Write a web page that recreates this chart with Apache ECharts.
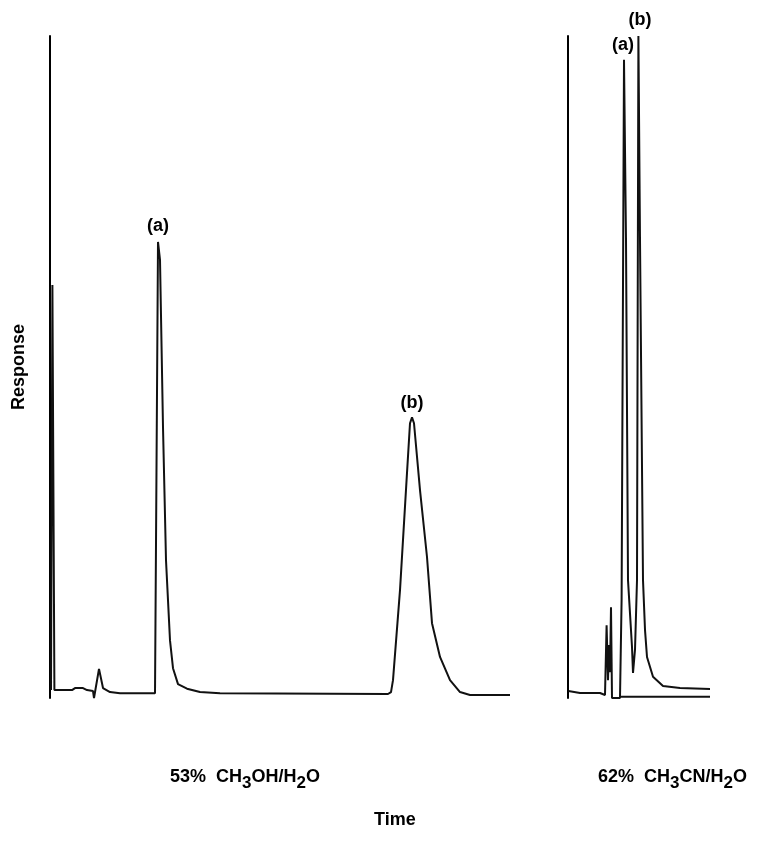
<!DOCTYPE html>
<html>
<head>
    <title>Chromatograms</title>
    <script src="https://cdn.jsdelivr.net/npm/echarts@6.0.0/dist/echarts.min.js"></script>
    <style>
        html, body { margin: 0; padding: 0; background: #fff; }
        #chart { width: 758px; height: 849px; }
    </style>
</head>
<body>
    <div id="chart"></div>
    <script>
        // 53% CH3OH/H2O trace: [time (min), response]
        var methanolTrace = [
            [0.05, 1.2], [0.12, 62.4], [0.22, 1.2], [1.1, 1.2], [1.25, 1.5], [1.65, 1.5],
            [1.85, 1.2], [2.15, 1.05], [2.2, 0], [2.3, 0], [2.45, 4.4], [2.65, 1.5],
            [3.0, 0.9], [3.5, 0.7], [5.25, 0.7], [5.4, 68.9], [5.5, 66.2], [5.65, 40.9],
            [5.8, 20.8], [6.0, 8.7], [6.15, 4.5], [6.4, 2.1], [6.85, 1.4], [7.5, 0.9],
            [8.5, 0.7], [16.9, 0.6], [17.05, 0.9], [17.15, 2.7], [17.5, 16.3], [17.85, 34.0],
            [18.0, 41.5], [18.1, 42.4], [18.2, 41.5], [18.5, 31.4], [18.85, 21.3], [19.1, 11.3],
            [19.5, 6.2], [20.0, 2.7], [20.5, 0.9], [21.0, 0.45], [23.0, 0.45]
        ];
        // 62% CH3CN/H2O trace
        var acetonitrileTrace = [
            [0.02, 1.06], [0.6, 0.76], [1.6, 0.76], [1.85, 0.45], [1.93, 11.0], [2.0, 2.7],
            [2.05, 8.0], [2.1, 3.9], [2.15, 13.7], [2.2, 0], [2.6, 0], [2.68, 14.8],
            [2.8, 96.4], [2.9, 69.2], [3.0, 17.8], [3.2, 7.7], [3.25, 3.8], [3.35, 7.3],
            [3.45, 17.8], [3.52, 100], [3.6, 69.2], [3.75, 17.8], [3.85, 10.3], [3.95, 6.2],
            [4.25, 3.2], [4.75, 1.8], [5.6, 1.5], [7.1, 1.36]
        ];
        var acetonitrileZero = [[2.6, 0.2], [7.1, 0.2]];

        // peak labels
        var methanolPeaks = [
            { name: '(a)', value: [5.4, 71.3] },
            { name: '(b)', value: [18.1, 44.6] }
        ];
        var acetonitrilePeaks = [
            { name: '(a)', value: [2.75, 98.6] },
            { name: '(b)', value: [3.6, 102.4] }
        ];

        var FONT = '"Liberation Sans", Arial, sans-serif';
        var chart = echarts.init(document.getElementById('chart'));

        function hiddenX(index, max) {
            return {
                type: 'value', gridIndex: index, min: 0, max: max,
                axisLine: { show: false }, axisTick: { show: false },
                axisLabel: { show: false }, splitLine: { show: false }
            };
        }
        function plainY(index, name) {
            return {
                type: 'value', gridIndex: index, min: 0, max: 100,
                name: name, nameLocation: 'middle', nameGap: 15,
                nameTextStyle: { fontFamily: FONT, fontWeight: 'bold', fontSize: 18, color: '#000' },
                axisLine: { show: true, lineStyle: { color: '#000', width: 2 } },
                axisTick: { show: false }, axisLabel: { show: false }, splitLine: { show: false }
            };
        }
        function labelSeries(index, data) {
            return {
                type: 'scatter', xAxisIndex: index, yAxisIndex: index,
                symbolSize: 0, clip: false, data: data,
                itemStyle: { color: '#000', opacity: 1 },
                label: {
                    show: true, position: 'inside', formatter: '{b}',
                    fontFamily: FONT, fontWeight: 'bold', fontSize: 18, color: '#000',
                    textBorderWidth: 0, opacity: 1
                }
            };
        }
        var lineStyle = { color: '#111', width: 2 };

        var rich = {
            n: { fontFamily: FONT, fontWeight: 'bold', fontSize: 18, color: '#000' },
            s: { fontFamily: FONT, fontWeight: 'bold', fontSize: 17, color: '#000', padding: [11, 0, 0, 0] }
        };

        chart.setOption({
            animation: false,
            grid: [
                { left: 50, top: 36, width: 460, height: 662, outerBoundsMode: 'none' },
                { left: 568, top: 36, width: 142, height: 662, outerBoundsMode: 'none' }
            ],
            xAxis: [hiddenX(0, 23), hiddenX(1, 7.1)],
            yAxis: [plainY(0, 'Response'), plainY(1, '')],
            series: [
                { type: 'line', xAxisIndex: 0, yAxisIndex: 0, data: methanolTrace, symbol: 'none', lineStyle: lineStyle },
                { type: 'line', xAxisIndex: 1, yAxisIndex: 1, data: acetonitrileTrace, symbol: 'none', lineStyle: lineStyle },
                { type: 'line', xAxisIndex: 1, yAxisIndex: 1, data: acetonitrileZero, symbol: 'none', lineStyle: lineStyle },
                labelSeries(0, methanolPeaks),
                labelSeries(1, acetonitrilePeaks)
            ],
            graphic: [
                {
                    type: 'text', left: 170, top: 762,
                    style: { text: '{n|53%  CH}{s|3}{n|OH/H}{s|2}{n|O}', rich: rich }
                },
                {
                    type: 'text', left: 598, top: 762,
                    style: { text: '{n|62%  CH}{s|3}{n|CN/H}{s|2}{n|O}', rich: rich }
                },
                {
                    type: 'text', left: 374, top: 805,
                    style: { text: 'Time', fontFamily: FONT, fontWeight: 'bold', fontSize: 18, fill: '#000' }
                }
            ]
        });
    </script>
</body>
</html>
